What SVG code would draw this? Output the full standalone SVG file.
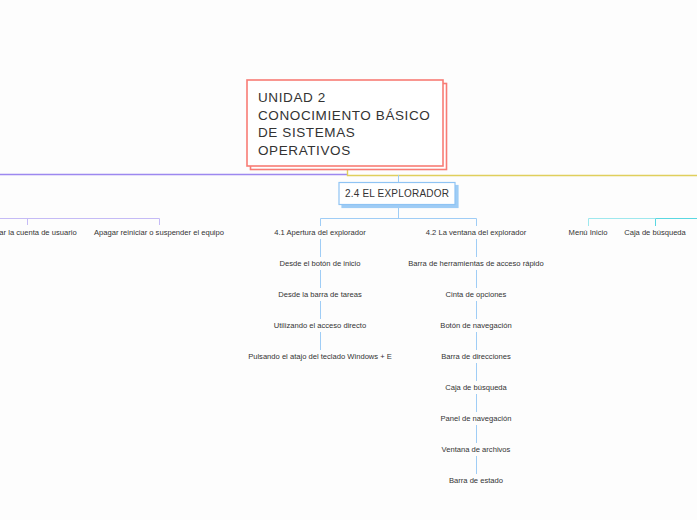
<svg xmlns="http://www.w3.org/2000/svg" width="697" height="520" viewBox="0 0 697 520">
<style>
.bg{fill:#fdfdfd}
.t{font-family:"Liberation Sans",Arial,sans-serif;fill:#333}
.s{font-size:7.6px;text-anchor:middle}
.title{font-size:13.5px;letter-spacing:0.6px}
.c{fill:none;stroke-width:1}
.blue{stroke:#9fcdf6}
.purple{stroke:#9d88f0;stroke-width:1.3}
.purple2{stroke:#c5bbf6}
.yellow{stroke:#e0cf5c;stroke-width:1.4}
.cyan1{stroke:#9ee8ee}
.cyan2{stroke:#5ad8e2}
</style>
<rect class="bg" x="0" y="0" width="697" height="520"/>
<g id="connectors">
  <path class="c purple" d="M0 174.5 H347"/>
  <path class="c yellow" d="M347.5 170 V175.5 H697"/>
  <path class="c blue" d="M398.5 175 V183"/>
  <path class="c blue" d="M398.5 208 V218.5 M320.5 226 V218.5 H476.5 V226"/>
  <path class="c purple2" d="M0 218.5 H159.5 V225 M27.5 218.5 V225"/>
  <path class="c cyan1" d="M588.5 226 V218.5 H655"/>
  <path class="c cyan2" d="M655.5 226 V218.5 H697"/>
  <path class="c blue" d="M320.5 239 V257 M320.5 270 V288 M320.5 301 V319 M320.5 332 V350"/>
  <path class="c blue" d="M476.5 239 V257 M476.5 270 V288 M476.5 301 V319 M476.5 332 V350 M476.5 363 V381 M476.5 394 V412 M476.5 425 V443 M476.5 456 V474"/>
</g>
<g id="root">
  <rect x="250.5" y="83.5" width="196" height="86" fill="#fff" stroke="#f87c75" stroke-width="1.6"/>
  <rect x="247" y="80" width="196" height="86" fill="#fff" stroke="#f87c75" stroke-width="1.6"/>
  <text class="t title" x="258" y="102">UNIDAD 2</text>
  <text class="t title" x="258" y="120">CONOCIMIENTO BÁSICO</text>
  <text class="t title" x="258" y="137">DE SISTEMAS</text>
  <text class="t title" x="258" y="155">OPERATIVOS</text>
</g>
<g id="explorador">
  <rect x="342" y="185.5" width="116" height="22" fill="#9fcdf6" stroke="#9fcdf6" stroke-width="1.2"/>
  <rect x="339" y="182.5" width="116" height="22" fill="#fff" stroke="#8fc4f4" stroke-width="1.2"/>
  <text class="t" x="397" y="197" font-size="10" text-anchor="middle" letter-spacing="0.2">2.4 EL EXPLORADOR</text>
</g>
<g id="apertura"><text class="t s" x="320" y="235">4.1 Apertura del explorador</text></g>
<g id="ventana"><text class="t s" x="476" y="235">4.2 La ventana del explorador</text></g>
<g id="cambiar"><text class="t s" x="27" y="235">Cambiar la cuenta de usuario</text></g>
<g id="apagar"><text class="t s" x="159" y="235">Apagar reiniciar o suspender el equipo</text></g>
<g id="menu"><text class="t s" x="588" y="235">Menú Inicio</text></g>
<g id="caja1"><text class="t s" x="655" y="235">Caja de búsqueda</text></g>
<g id="a1"><text class="t s" x="320" y="266">Desde el botón de inicio</text></g>
<g id="a2"><text class="t s" x="320" y="297">Desde la barra de tareas</text></g>
<g id="a3"><text class="t s" x="320" y="328">Utilizando el acceso directo</text></g>
<g id="a4"><text class="t s" x="320" y="359">Pulsando el atajo del teclado Windows + E</text></g>
<g id="b1"><text class="t s" x="476" y="266">Barra de herramientas de acceso rápido</text></g>
<g id="b2"><text class="t s" x="476" y="297">Cinta de opciones</text></g>
<g id="b3"><text class="t s" x="476" y="328">Botón de navegación</text></g>
<g id="b4"><text class="t s" x="476" y="359">Barra de direcciones</text></g>
<g id="b5"><text class="t s" x="476" y="390">Caja de búsqueda</text></g>
<g id="b6"><text class="t s" x="476" y="421">Panel de navegación</text></g>
<g id="b7"><text class="t s" x="476" y="452">Ventana de archivos</text></g>
<g id="b8"><text class="t s" x="476" y="483">Barra de estado</text></g>
</svg>
